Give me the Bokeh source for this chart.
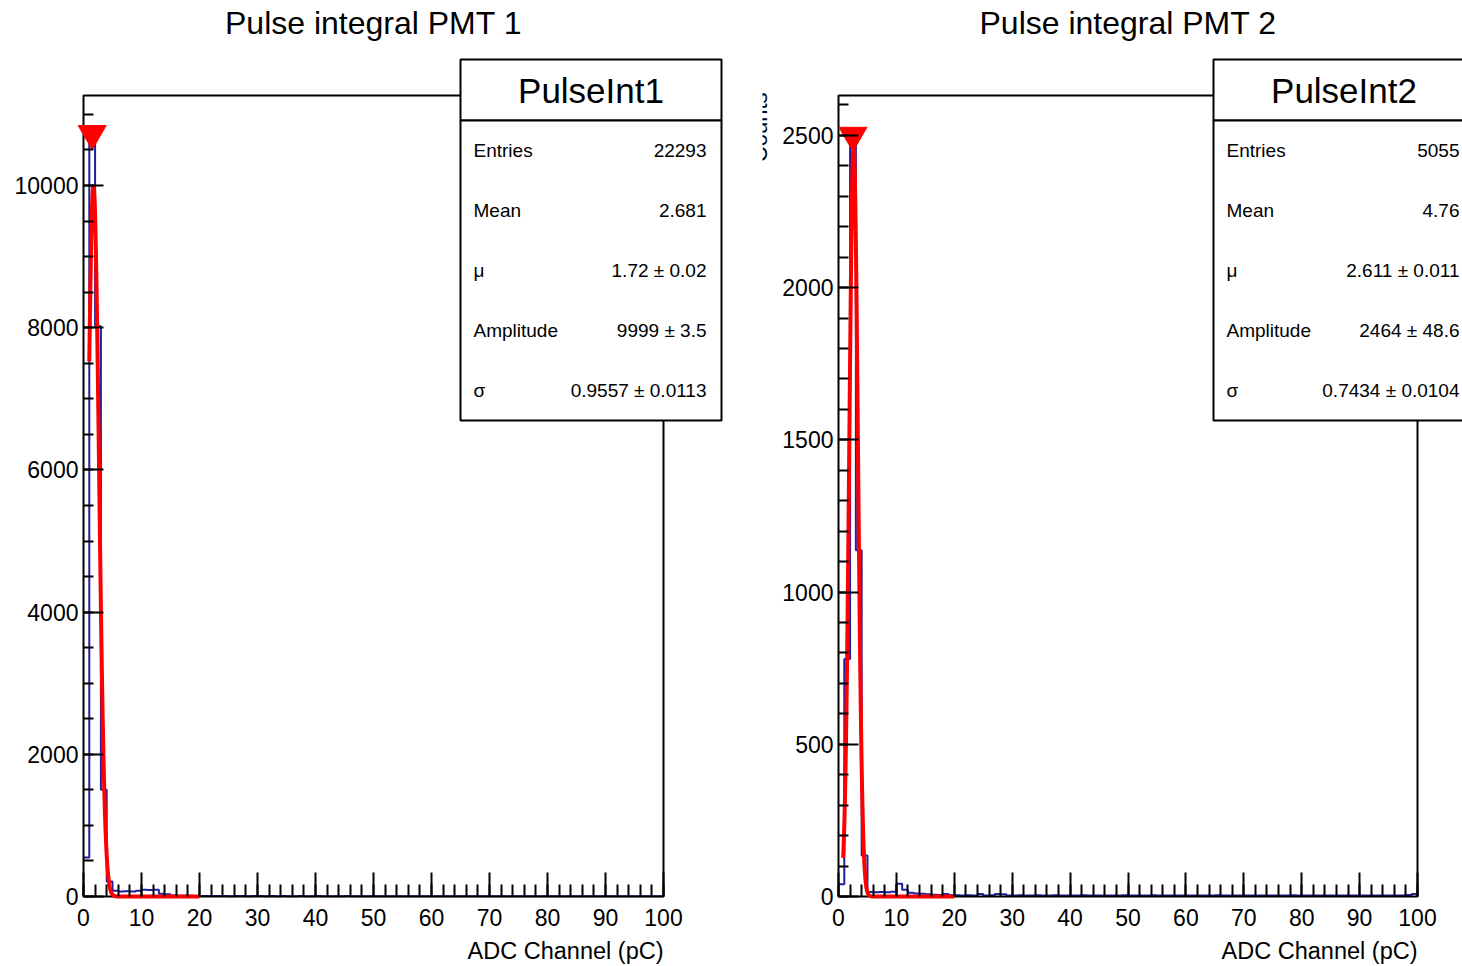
import numpy as np
from bokeh.plotting import figure
from bokeh.models import Range1d, FixedTicker, Label, BoxAnnotation
from bokeh.layouts import row
from bokeh.embed import file_html
from bokeh.resources import INLINE

# ---------------- data ----------------
bin_edges = list(range(0, 101))

counts_pmt1 = [550, 10730, 8020, 1500, 210, 80, 70, 75, 70, 80,
               95, 90, 95, 40, 30, 15, 12, 10, 10, 8,
               7, 6, 8, 6, 7, 5, 6, 7, 5, 6,
               6, 5, 7, 5, 6, 5, 4, 6, 5, 5,
               6, 4, 5, 5, 4, 6, 5, 4, 5, 4,
               5, 4, 4, 5, 3, 4, 5, 4, 4, 3,
               4, 4, 3, 4, 3, 4, 3, 4, 3, 3,
               4, 3, 3, 3, 4, 3, 2, 3, 3, 3,
               3, 2, 3, 3, 2, 3, 2, 3, 2, 2,
               3, 2, 2, 2, 3, 2, 2, 2, 2, 3]

counts_pmt2 = [40, 780, 2500, 1137, 135, 15, 14, 15, 14, 16,
               42, 22, 12, 10, 9, 7, 6, 5, 8, 5,
               4, 3, 4, 3, 8, 3, 4, 8, 7, 3,
               3, 4, 3, 3, 4, 3, 3, 4, 3, 3,
               3, 3, 4, 3, 3, 3, 3, 3, 3, 4,
               3, 3, 3, 3, 4, 3, 3, 3, 3, 3,
               3, 3, 3, 3, 3, 4, 3, 3, 3, 3,
               3, 3, 3, 3, 3, 3, 3, 3, 4, 3,
               3, 3, 3, 3, 3, 3, 3, 3, 3, 3,
               3, 3, 3, 3, 3, 3, 3, 3, 5, 8]

titles = ["Pulse integral PMT 1", "Pulse integral PMT 2"]
box_names = ["PulseInt1", "PulseInt2"]
stat_labels = ["Entries", "Mean", "\u03bc", "Amplitude", "\u03c3"]
stat_values_pmt1 = ["22293", "2.681", "1.72 \u00b1 0.02", "9999 \u00b1 3.5", "0.9557 \u00b1 0.0113"]
stat_values_pmt2 = ["5055", "4.76", "2.611 \u00b1 0.011", "2464 \u00b1 48.6", "0.7434 \u00b1 0.0104"]

fit_mu = [1.72, 2.611]
fit_sigma = [0.9557, 0.7434]
fit_amplitude = [9999, 2464]
fit_range_pmt1 = [1.0, 20.0]
fit_range_pmt2 = [0.8, 20.0]

peak_x = [1.5, 2.5]
peak_y = [10730, 2500]

x_min, x_max = 0, 100
x_ticks = list(range(0, 101, 10))
x_minor_ticks = list(range(0, 101, 2))
y_ticks_pmt1 = [0, 2000, 4000, 6000, 8000, 10000]
y_minor_ticks_pmt1 = list(range(0, 11001, 500))
y_ticks_pmt2 = [0, 500, 1000, 1500, 2000, 2500]
y_minor_ticks_pmt2 = list(range(0, 2601, 100))
y_max = [11266, 2631]

x_axis_title = "ADC Channel (pC)"
y_axis_title = "Counts"

FONT = "Liberation Sans"
HIST_COLOR = "#1f1fa0"
FIT_COLOR = "#ff0000"

H = 966          # canvas height
FR_TOP = 95      # pixel row of the histogram frame top
FR_BOT = 896     # pixel row of the histogram frame bottom (y = 0)


def make_panel(idx, counts, stat_values, fit_range, y_ticks, y_minor,
               width, fr_left, fr_width, box_left):
    # pixel -> data mapping so that the histogram frame sits at the wanted pixels
    xs = fr_width / (x_max - x_min)
    ys = (FR_BOT - FR_TOP) / y_max[idx]
    xr = Range1d(x_min - fr_left / xs, x_min + (width - fr_left) / xs)
    yr = Range1d(-(H - FR_BOT) / ys, FR_BOT / ys)

    p = figure(width=width, height=H, x_range=xr, y_range=yr,
               min_border=0, min_border_left=0, min_border_right=0,
               min_border_top=0, min_border_bottom=0,
               output_backend="svg", toolbar_location=None,
               background_fill_color="white", border_fill_color="white",
               outline_line_color=None)
    p.xgrid.visible = False
    p.ygrid.visible = False

    p.xaxis.fixed_location = 0
    p.yaxis.fixed_location = 0
    p.xaxis.ticker = FixedTicker(ticks=x_ticks, minor_ticks=x_minor_ticks)
    p.yaxis.ticker = FixedTicker(ticks=y_ticks, minor_ticks=y_minor)
    for ax, tin, tmin, stand in ((p.xaxis, 24, 12, 12), (p.yaxis, 20, 10, 5)):
        ax.axis_line_color = None
        ax.major_tick_in = tin
        ax.major_tick_out = 0
        ax.minor_tick_in = tmin
        ax.minor_tick_out = 0
        ax.major_tick_line_color = "black"
        ax.minor_tick_line_color = "black"
        ax.major_tick_line_width = 2
        ax.minor_tick_line_width = 2
        ax.major_label_text_font = FONT
        ax.major_label_text_font_size = "23px"
        ax.major_label_text_color = "black"
        ax.major_label_standoff = stand

    # histogram outline
    step_y = list(counts) + [counts[-1]]
    p.step(x=bin_edges, y=step_y, mode="after", line_color=HIST_COLOR, line_width=2)

    # histogram frame (axes lines + top/right edges)
    p.line([x_min, x_min, x_max, x_max, x_min], [0, y_max[idx], y_max[idx], 0, 0],
           line_color="black", line_width=2)

    # gaussian fit curve from fitted parameters
    xf = np.linspace(fit_range[0], fit_range[1], 600)
    yf = fit_amplitude[idx] * np.exp(-0.5 * ((xf - fit_mu[idx]) / fit_sigma[idx]) ** 2)
    p.line(xf, yf, line_color=FIT_COLOR, line_width=4)

    # peak marker
    p.scatter([peak_x[idx]], [peak_y[idx]], marker="inverted_triangle", size=28,
              fill_color=FIT_COLOR, line_color=FIT_COLOR)

    # title (centred over the histogram frame)
    p.add_layout(Label(x=fr_left + fr_width / 2, y=H - 22, x_units="screen", y_units="screen",
                       text=titles[idx], text_align="center", text_baseline="middle",
                       text_font=FONT, text_font_size="32px", text_color="black"))
    # x-axis title, right aligned to the frame
    p.add_layout(Label(x=fr_left + fr_width, y=H - 950, x_units="screen", y_units="screen",
                       text=x_axis_title, text_align="right", text_baseline="middle",
                       text_font=FONT, text_font_size="23.5px", text_color="black"))

    # stats box
    bw = 261
    top, div, bottom = H - 59, H - 120, H - 420
    for t, b in ((top, div), (div, bottom)):
        p.add_layout(BoxAnnotation(left=box_left, right=box_left + bw, top=t, bottom=b,
                                   left_units="screen", right_units="screen",
                                   top_units="screen", bottom_units="screen",
                                   fill_color="white", fill_alpha=1.0,
                                   line_color="black", line_width=2, line_alpha=1.0))
    p.add_layout(Label(x=box_left + bw / 2, y=(top + div) / 2, x_units="screen", y_units="screen",
                       text=box_names[idx], text_align="center", text_baseline="middle",
                       text_font=FONT, text_font_size="35px", text_color="black"))
    for k, (lab, val) in enumerate(zip(stat_labels, stat_values)):
        yy = H - 150 - 60 * k
        p.add_layout(Label(x=box_left + 13, y=yy, x_units="screen", y_units="screen",
                           text=lab, text_align="left", text_baseline="middle",
                           text_font=FONT, text_font_size="19px", text_color="black"))
        p.add_layout(Label(x=box_left + bw - 15, y=yy, x_units="screen", y_units="screen",
                           text=val, text_align="right", text_baseline="middle",
                           text_font=FONT, text_font_size="19px", text_color="black"))
    return p


p1 = make_panel(0, counts_pmt1, stat_values_pmt1, fit_range_pmt1,
                y_ticks_pmt1, y_minor_ticks_pmt1, 762, 83, 580, 460)
p2 = make_panel(1, counts_pmt2, stat_values_pmt2, fit_range_pmt2,
                y_ticks_pmt2, y_minor_ticks_pmt2, 700, 76, 579, 451)

# y-axis title of the second pad, partly cut by the pad edge as in the original
p2.add_layout(Label(x=-3, y=H - 92, x_units="screen", y_units="screen",
                    text=y_axis_title, angle=np.pi / 2, text_align="right",
                    text_baseline="alphabetic", text_font=FONT, text_font_size="22px",
                    text_color="black"))

layout = row(p1, p2)
open("out.html", "w").write(file_html(layout, INLINE))
